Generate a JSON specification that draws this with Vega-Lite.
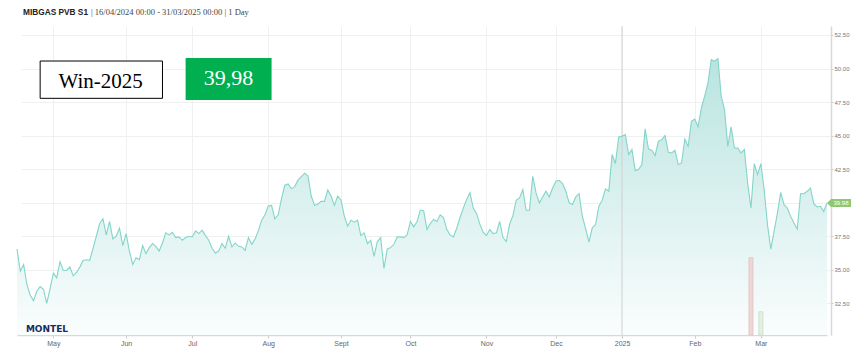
{
  "$schema": "https://vega.github.io/schema/vega-lite/v6.json",
  "width": 814,
  "height": 309,
  "autosize": {"type": "none"},
  "padding": {"left": 17, "top": 26, "right": 36, "bottom": 22},
  "background": "white",
  "config": {"view": {"stroke": null}, "font": "Liberation Sans"},
  "datasets": {
    "prices": [
      {"date": "2024-04-16", "price": 36.55}, {"date": "2024-04-17", "price": 34.9}, {"date": "2024-04-18", "price": 35.4}, {"date": "2024-04-19", "price": 33.9}, {"date": "2024-04-22", "price": 33.1}, {"date": "2024-04-23", "price": 32.7}, {"date": "2024-04-24", "price": 33.4}, {"date": "2024-04-25", "price": 33.75}, {"date": "2024-04-26", "price": 33.55}, {"date": "2024-04-29", "price": 32.5}, {"date": "2024-04-30", "price": 33.6},
      {"date": "2024-05-02", "price": 34.75}, {"date": "2024-05-03", "price": 34.4}, {"date": "2024-05-06", "price": 35.6}, {"date": "2024-05-07", "price": 34.95}, {"date": "2024-05-08", "price": 34.95}, {"date": "2024-05-09", "price": 35.2}, {"date": "2024-05-10", "price": 34.55}, {"date": "2024-05-13", "price": 34.8}, {"date": "2024-05-14", "price": 35.2}, {"date": "2024-05-15", "price": 35.7}, {"date": "2024-05-16", "price": 35.75}, {"date": "2024-05-17", "price": 35.7}, {"date": "2024-05-20", "price": 36.6}, {"date": "2024-05-21", "price": 37.5}, {"date": "2024-05-22", "price": 38.45}, {"date": "2024-05-23", "price": 38.8}, {"date": "2024-05-24", "price": 37.6}, {"date": "2024-05-27", "price": 38.6}, {"date": "2024-05-28", "price": 37.3}, {"date": "2024-05-29", "price": 37.5}, {"date": "2024-05-30", "price": 38.1}, {"date": "2024-05-31", "price": 36.8},
      {"date": "2024-06-03", "price": 37.7}, {"date": "2024-06-04", "price": 36.4}, {"date": "2024-06-05", "price": 35.4}, {"date": "2024-06-06", "price": 35.9}, {"date": "2024-06-07", "price": 35.75}, {"date": "2024-06-10", "price": 36.8}, {"date": "2024-06-11", "price": 36.2}, {"date": "2024-06-12", "price": 36.65}, {"date": "2024-06-13", "price": 36.95}, {"date": "2024-06-14", "price": 36.75}, {"date": "2024-06-17", "price": 36.4}, {"date": "2024-06-18", "price": 37.0}, {"date": "2024-06-19", "price": 37.75}, {"date": "2024-06-20", "price": 37.6}, {"date": "2024-06-21", "price": 37.8}, {"date": "2024-06-24", "price": 37.4}, {"date": "2024-06-25", "price": 37.45}, {"date": "2024-06-26", "price": 37.2}, {"date": "2024-06-27", "price": 37.4}, {"date": "2024-06-28", "price": 37.5},
      {"date": "2024-07-01", "price": 37.45}, {"date": "2024-07-02", "price": 37.9}, {"date": "2024-07-03", "price": 37.7}, {"date": "2024-07-04", "price": 37.95}, {"date": "2024-07-05", "price": 37.55}, {"date": "2024-07-08", "price": 37.2}, {"date": "2024-07-09", "price": 36.6}, {"date": "2024-07-10", "price": 36.25}, {"date": "2024-07-11", "price": 36.4}, {"date": "2024-07-12", "price": 36.95}, {"date": "2024-07-15", "price": 36.6}, {"date": "2024-07-16", "price": 37.5}, {"date": "2024-07-17", "price": 36.7}, {"date": "2024-07-18", "price": 37.0}, {"date": "2024-07-19", "price": 36.75}, {"date": "2024-07-22", "price": 36.7}, {"date": "2024-07-23", "price": 36.45}, {"date": "2024-07-24", "price": 37.4}, {"date": "2024-07-25", "price": 36.9}, {"date": "2024-07-26", "price": 37.3}, {"date": "2024-07-29", "price": 37.9}, {"date": "2024-07-30", "price": 38.7}, {"date": "2024-07-31", "price": 39.1},
      {"date": "2024-08-01", "price": 39.75}, {"date": "2024-08-02", "price": 39.8}, {"date": "2024-08-05", "price": 38.8}, {"date": "2024-08-06", "price": 39.1}, {"date": "2024-08-07", "price": 40.3}, {"date": "2024-08-08", "price": 41.3}, {"date": "2024-08-09", "price": 41.4}, {"date": "2024-08-12", "price": 41.05}, {"date": "2024-08-13", "price": 41.2}, {"date": "2024-08-14", "price": 41.7}, {"date": "2024-08-15", "price": 41.95}, {"date": "2024-08-16", "price": 42.2}, {"date": "2024-08-19", "price": 42.0}, {"date": "2024-08-20", "price": 40.5}, {"date": "2024-08-21", "price": 39.8}, {"date": "2024-08-22", "price": 39.9}, {"date": "2024-08-23", "price": 40.1}, {"date": "2024-08-26", "price": 40.1}, {"date": "2024-08-27", "price": 40.95}, {"date": "2024-08-28", "price": 40.5}, {"date": "2024-08-29", "price": 39.8}, {"date": "2024-08-30", "price": 40.5},
      {"date": "2024-09-02", "price": 40.2}, {"date": "2024-09-03", "price": 39.0}, {"date": "2024-09-04", "price": 38.25}, {"date": "2024-09-05", "price": 38.7}, {"date": "2024-09-06", "price": 38.55}, {"date": "2024-09-09", "price": 38.7}, {"date": "2024-09-10", "price": 37.55}, {"date": "2024-09-11", "price": 37.75}, {"date": "2024-09-12", "price": 36.95}, {"date": "2024-09-13", "price": 37.2}, {"date": "2024-09-16", "price": 36.0}, {"date": "2024-09-17", "price": 37.1}, {"date": "2024-09-18", "price": 37.4}, {"date": "2024-09-19", "price": 35.1}, {"date": "2024-09-20", "price": 36.55}, {"date": "2024-09-23", "price": 36.65}, {"date": "2024-09-24", "price": 36.9}, {"date": "2024-09-25", "price": 37.45}, {"date": "2024-09-26", "price": 37.45}, {"date": "2024-09-27", "price": 37.4}, {"date": "2024-09-30", "price": 37.6},
      {"date": "2024-10-01", "price": 38.6}, {"date": "2024-10-02", "price": 38.2}, {"date": "2024-10-03", "price": 38.6}, {"date": "2024-10-04", "price": 39.45}, {"date": "2024-10-07", "price": 39.4}, {"date": "2024-10-08", "price": 38.0}, {"date": "2024-10-09", "price": 38.45}, {"date": "2024-10-10", "price": 38.75}, {"date": "2024-10-11", "price": 38.6}, {"date": "2024-10-14", "price": 39.1}, {"date": "2024-10-15", "price": 38.9}, {"date": "2024-10-16", "price": 38.0}, {"date": "2024-10-17", "price": 37.6}, {"date": "2024-10-18", "price": 37.45}, {"date": "2024-10-21", "price": 38.1}, {"date": "2024-10-22", "price": 38.9}, {"date": "2024-10-23", "price": 39.6}, {"date": "2024-10-24", "price": 40.25}, {"date": "2024-10-25", "price": 40.75}, {"date": "2024-10-28", "price": 39.6}, {"date": "2024-10-29", "price": 39.2}, {"date": "2024-10-30", "price": 38.4}, {"date": "2024-10-31", "price": 37.8},
      {"date": "2024-11-01", "price": 37.55}, {"date": "2024-11-04", "price": 38.0}, {"date": "2024-11-05", "price": 37.7}, {"date": "2024-11-06", "price": 37.75}, {"date": "2024-11-07", "price": 38.6}, {"date": "2024-11-08", "price": 37.4}, {"date": "2024-11-11", "price": 37.1}, {"date": "2024-11-12", "price": 38.4}, {"date": "2024-11-13", "price": 39.04}, {"date": "2024-11-14", "price": 40.19}, {"date": "2024-11-15", "price": 40.36}, {"date": "2024-11-18", "price": 40.98}, {"date": "2024-11-19", "price": 39.44}, {"date": "2024-11-20", "price": 39.44}, {"date": "2024-11-21", "price": 41.97}, {"date": "2024-11-22", "price": 40.73}, {"date": "2024-11-25", "price": 39.99}, {"date": "2024-11-26", "price": 40.43}, {"date": "2024-11-27", "price": 40.86}, {"date": "2024-11-28", "price": 40.43}, {"date": "2024-11-29", "price": 41.1},
      {"date": "2024-12-02", "price": 41.6}, {"date": "2024-12-03", "price": 41.67}, {"date": "2024-12-04", "price": 41.43}, {"date": "2024-12-05", "price": 40.86}, {"date": "2024-12-06", "price": 39.99}, {"date": "2024-12-09", "price": 39.86}, {"date": "2024-12-10", "price": 40.43}, {"date": "2024-12-11", "price": 40.68}, {"date": "2024-12-12", "price": 38.99}, {"date": "2024-12-13", "price": 38.05}, {"date": "2024-12-16", "price": 37.06}, {"date": "2024-12-17", "price": 38.13}, {"date": "2024-12-18", "price": 38.37}, {"date": "2024-12-19", "price": 39.74}, {"date": "2024-12-20", "price": 40.19}, {"date": "2024-12-23", "price": 41.03}, {"date": "2024-12-24", "price": 40.86}, {"date": "2024-12-27", "price": 43.59}, {"date": "2024-12-30", "price": 42.92}, {"date": "2024-12-31", "price": 44.9},
      {"date": "2025-01-02", "price": 44.95}, {"date": "2025-01-03", "price": 45.07}, {"date": "2025-01-06", "price": 43.59}, {"date": "2025-01-07", "price": 43.96}, {"date": "2025-01-08", "price": 42.39}, {"date": "2025-01-09", "price": 42.47}, {"date": "2025-01-10", "price": 42.84}, {"date": "2025-01-13", "price": 45.5}, {"date": "2025-01-14", "price": 44.0}, {"date": "2025-01-15", "price": 43.91}, {"date": "2025-01-16", "price": 43.51}, {"date": "2025-01-17", "price": 44.58}, {"date": "2025-01-20", "price": 44.7}, {"date": "2025-01-21", "price": 45.0}, {"date": "2025-01-22", "price": 43.76}, {"date": "2025-01-23", "price": 43.71}, {"date": "2025-01-24", "price": 43.91}, {"date": "2025-01-27", "price": 42.85}, {"date": "2025-01-28", "price": 42.96}, {"date": "2025-01-29", "price": 44.75}, {"date": "2025-01-30", "price": 44.2}, {"date": "2025-01-31", "price": 46.07},
      {"date": "2025-02-03", "price": 46.24}, {"date": "2025-02-04", "price": 45.65}, {"date": "2025-02-05", "price": 47.06}, {"date": "2025-02-06", "price": 47.94}, {"date": "2025-02-07", "price": 48.93}, {"date": "2025-02-10", "price": 50.67}, {"date": "2025-02-11", "price": 50.55}, {"date": "2025-02-12", "price": 50.75}, {"date": "2025-02-13", "price": 47.94}, {"date": "2025-02-14", "price": 46.94}, {"date": "2025-02-17", "price": 44.2}, {"date": "2025-02-18", "price": 45.65}, {"date": "2025-02-19", "price": 44.08}, {"date": "2025-02-20", "price": 44.08}, {"date": "2025-02-21", "price": 43.71}, {"date": "2025-02-24", "price": 43.96}, {"date": "2025-02-25", "price": 41.47}, {"date": "2025-02-26", "price": 39.6}, {"date": "2025-02-27", "price": 42.91}, {"date": "2025-02-28", "price": 42.09},
      {"date": "2025-03-03", "price": 42.91}, {"date": "2025-03-04", "price": 40.97}, {"date": "2025-03-05", "price": 38.36}, {"date": "2025-03-06", "price": 36.54}, {"date": "2025-03-07", "price": 37.86}, {"date": "2025-03-10", "price": 39.23}, {"date": "2025-03-11", "price": 40.77}, {"date": "2025-03-12", "price": 39.85}, {"date": "2025-03-13", "price": 39.6}, {"date": "2025-03-14", "price": 38.98}, {"date": "2025-03-17", "price": 38.48}, {"date": "2025-03-18", "price": 38.03}, {"date": "2025-03-19", "price": 40.67}, {"date": "2025-03-20", "price": 40.67}, {"date": "2025-03-21", "price": 40.85}, {"date": "2025-03-24", "price": 41.09}, {"date": "2025-03-25", "price": 39.93}, {"date": "2025-03-26", "price": 39.68}, {"date": "2025-03-27", "price": 39.73}, {"date": "2025-03-28", "price": 39.35}, {"date": "2025-03-31", "price": 39.98}
    ],
    "volume": [
      {"date": "2025-02-26", "vol": 100, "dir": "down"},
      {"date": "2025-03-03", "vol": 30, "dir": "up"}
    ]
  },
  "layer": [
    {
      "data": {"name": "prices"},
      "mark": {"type": "area", "line": false, "color": {"gradient": "linear", "x1": 0, "y1": 0, "x2": 0, "y2": 1, "stops": [{"offset": 0, "color": "#b9e4e0"}, {"offset": 1, "color": "#fafdfd"}]}},
      "encoding": {
        "x": {
          "field": "date", "type": "ordinal",
          "scale": {"type": "point", "padding": 0, "range": [0, 810]},
          "axis": {
            "values": ["2024-05-02", "2024-06-03", "2024-07-01", "2024-08-01", "2024-09-02", "2024-10-01", "2024-11-01", "2024-12-02", "2025-01-02", "2025-02-03", "2025-03-03"],
            "labelExpr": "['','2025','Feb','Mar','Apr','May','Jun','Jul','Aug','Sept','Oct','Nov','Dec'][toNumber(slice(datum.value,5,7))]",
            "title": null, "labelAngle": 0, "labelFontSize": 7, "labelColor": "#666", "labelFont": "Liberation Sans",
            "labelPadding": 1, "tickSize": 3, "tickColor": "#cccccc", "domainColor": "#d8d8d8", "domainWidth": 1.5,
            "grid": true, "gridColor": "#f0f0f0", "gridWidth": 1
          }
        },
        "y": {
          "field": "price", "type": "quantitative",
          "scale": {"domain": [30.14, 53.17], "nice": false, "zero": false},
          "axis": {
            "orient": "right", "values": [32.5, 35, 37.5, 40, 42.5, 45, 47.5, 50, 52.5],
            "labelExpr": "datum.value == 40 ? '' : format(datum.value, '.2f')",
            "title": null, "labelFontSize": 6, "labelColor": "#777", "labelFont": "Liberation Sans", "labelPadding": 1,
            "tickSize": 2, "tickColor": "#cccccc", "domainColor": "#d8d8d8", "domainWidth": 1.5,
            "grid": true, "gridColor": "#f0f0f0", "gridWidth": 1
          }
        },
        "y2": {"datum": 30.14}
      }
    },
    {
      "data": {"values": [{}]},
      "mark": {"type": "rule", "color": "#d0d0d0", "strokeWidth": 1},
      "encoding": {"x": {"datum": "2025-01-02", "type": "ordinal", "axis": {"title": null}}}
    },
    {
      "data": {"name": "prices"},
      "mark": {"type": "line", "color": "#82d5c9", "strokeWidth": 1.1},
      "encoding": {
        "x": {"field": "date", "type": "ordinal", "axis": {"title": null}},
        "y": {"field": "price", "type": "quantitative", "scale": {"domain": [30.14, 53.17], "nice": false, "zero": false}, "axis": null}
      }
    },
    {
      "data": {"values": [{}]},
      "mark": {"type": "rect", "fill": "white", "stroke": "black", "strokeWidth": 1},
      "encoding": {
        "x": {"datum": "2024-04-25", "type": "ordinal", "axis": {"title": null}},
        "x2": {"datum": "2024-06-18"},
        "y": {"datum": 50.56, "type": "quantitative", "scale": {"domain": [30.14, 53.17], "nice": false, "zero": false}, "axis": null},
        "y2": {"datum": 47.78}
      }
    },
    {
      "data": {"values": [{}]},
      "mark": {"type": "text", "text": "Win-2025", "font": "Liberation Serif", "fontSize": 21, "color": "black", "align": "center", "baseline": "alphabetic", "dx": 1},
      "encoding": {
        "x": {"datum": "2024-05-22", "type": "ordinal", "axis": {"title": null}},
        "y": {"datum": 48.53, "type": "quantitative", "scale": {"domain": [30.14, 53.17], "nice": false, "zero": false}, "axis": null}
      }
    },
    {
      "data": {"values": [{}]},
      "mark": {"type": "rect", "fill": "#00b050"},
      "encoding": {
        "x": {"datum": "2024-06-27", "type": "ordinal", "axis": {"title": null}},
        "x2": {"datum": "2024-08-02"},
        "y": {"datum": 50.79, "type": "quantitative", "scale": {"domain": [30.14, 53.17], "nice": false, "zero": false}, "axis": null},
        "y2": {"datum": 47.66}
      }
    },
    {
      "data": {"values": [{}]},
      "mark": {"type": "text", "text": "39,98", "font": "Liberation Serif", "fontSize": 22, "color": "white", "align": "center", "baseline": "alphabetic"},
      "encoding": {
        "x": {"datum": "2024-07-16", "type": "ordinal", "axis": {"title": null}},
        "y": {"datum": 48.77, "type": "quantitative", "scale": {"domain": [30.14, 53.17], "nice": false, "zero": false}, "axis": null}
      }
    },
    {
      "data": {"values": [{}]},
      "mark": {"type": "text", "text": "MIBGAS PVB S1", "font": "Liberation Sans", "fontWeight": "bold", "fontSize": 8.3, "color": "#222", "align": "left", "baseline": "alphabetic", "dx": 6},
      "encoding": {
        "x": {"datum": "2024-04-16", "type": "ordinal", "axis": {"title": null}},
        "y": {"datum": 53.99, "type": "quantitative", "scale": {"domain": [30.14, 53.17], "nice": false, "zero": false}, "axis": null}
      }
    },
    {
      "data": {"values": [{}]},
      "mark": {"type": "text", "text": "| 16/04/2024 00:00 - 31/03/2025 00:00 | 1 Day", "font": "Liberation Serif", "fontSize": 8.5, "color": "#444", "align": "left", "baseline": "alphabetic", "dx": 74},
      "encoding": {
        "x": {"datum": "2024-04-16", "type": "ordinal", "axis": {"title": null}},
        "y": {"datum": 53.99, "type": "quantitative", "scale": {"domain": [30.14, 53.17], "nice": false, "zero": false}, "axis": null}
      }
    },
    {
      "data": {"values": [{}]},
      "mark": {"type": "text", "text": "MONTEL", "font": "DejaVu Sans", "fontWeight": "bold", "fontSize": 9, "color": "#1b2b5e", "align": "left", "baseline": "alphabetic", "dx": -1},
      "encoding": {
        "x": {"datum": "2024-04-19", "type": "ordinal", "axis": {"title": null}},
        "y": {"datum": 30.35, "type": "quantitative", "scale": {"domain": [30.14, 53.17], "nice": false, "zero": false}, "axis": null}
      }
    },
    {
      "data": {"values": [{}]},
      "mark": {"type": "point", "shape": "M0,0L1,-1L6,-1L6,1L1,1Z", "size": 64, "filled": true, "color": "#8fc873", "opacity": 1},
      "encoding": {
        "x": {"datum": "2025-03-31", "type": "ordinal", "axis": {"title": null}},
        "y": {"datum": 39.98, "type": "quantitative", "scale": {"domain": [30.14, 53.17], "nice": false, "zero": false}, "axis": null}
      }
    },
    {
      "data": {"values": [{}]},
      "mark": {"type": "text", "text": "39.98", "font": "Liberation Sans", "fontSize": 6, "color": "white", "align": "center", "baseline": "middle", "dx": 14},
      "encoding": {
        "x": {"datum": "2025-03-31", "type": "ordinal", "axis": {"title": null}},
        "y": {"datum": 39.98, "type": "quantitative", "scale": {"domain": [30.14, 53.17], "nice": false, "zero": false}, "axis": null}
      }
    },
    {
      "data": {"name": "volume"},
      "mark": {"type": "bar", "width": 4, "strokeWidth": 0.8},
      "encoding": {
        "x": {"field": "date", "type": "ordinal", "axis": {"title": null}},
        "y": {"field": "vol", "type": "quantitative", "scale": {"domain": [0, 400]}, "axis": null},
        "fill": {"field": "dir", "type": "nominal", "scale": {"domain": ["down", "up"], "range": ["#eed6d6", "#e3efe1"]}, "legend": null},
        "stroke": {"field": "dir", "type": "nominal", "scale": {"domain": ["down", "up"], "range": ["#dfc2c2", "#c8dcc5"]}, "legend": null}
      }
    }
  ],
  "resolve": {"scale": {"y": "independent"}}
}
